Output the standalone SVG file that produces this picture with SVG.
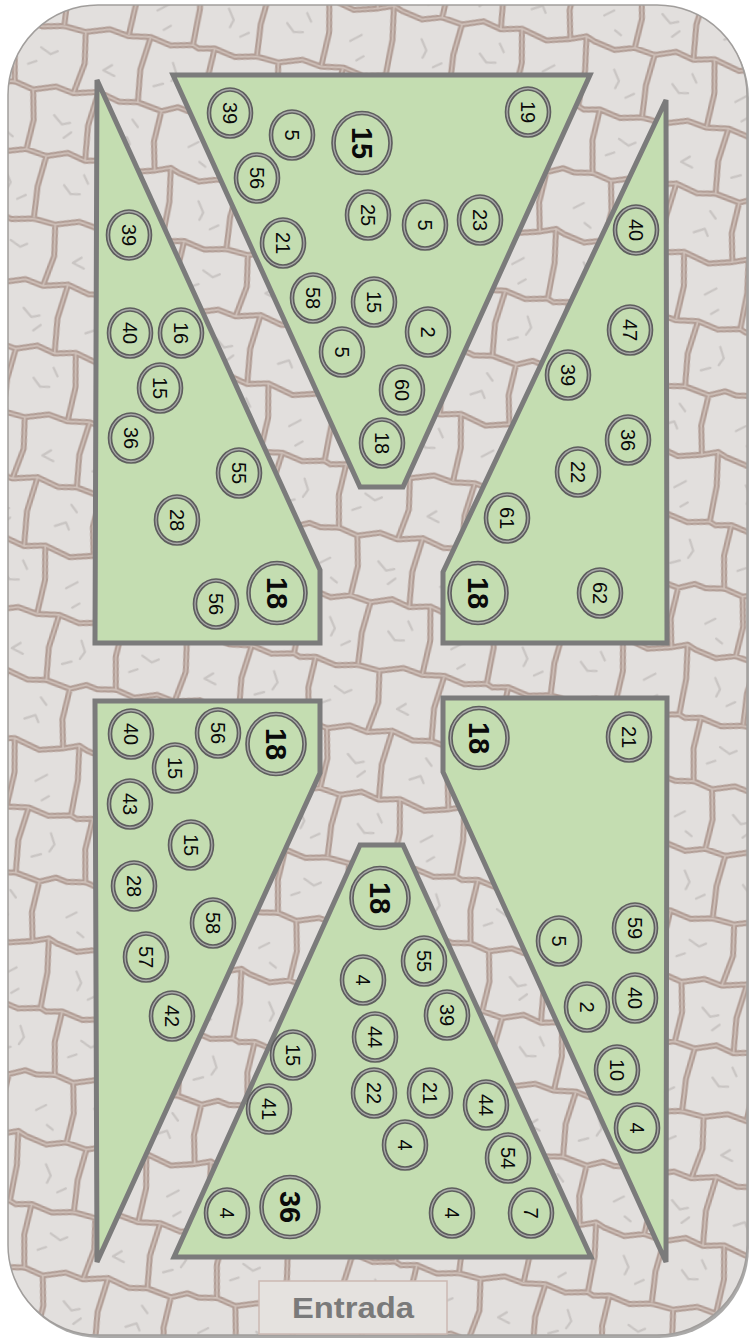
<svg xmlns="http://www.w3.org/2000/svg" xmlns:xlink="http://www.w3.org/1999/xlink" width="751" height="1343" viewBox="0 0 751 1343">
<style>
.zone{fill:#c4ddb1;stroke:#7b7b7b;stroke-width:5;stroke-linejoin:miter}
.ro{fill:#c4ddb1;stroke:#5e5e5e;stroke-width:4.6}
.ri{fill:none;stroke:#a9a9a9;stroke-width:1.3}
.n{font-family:"Liberation Sans",Arial,sans-serif;font-size:20px;fill:#0a0a0a;text-anchor:middle;dominant-baseline:central}
.nb{font-family:"Liberation Sans",Arial,sans-serif;font-size:29px;font-weight:bold;fill:#0a0a0a;text-anchor:middle;dominant-baseline:central}
.grout{fill:none;stroke:#b19d95;stroke-width:4.6;stroke-linejoin:round;stroke-linecap:round}
.groutHi{fill:none;stroke:#cfc1ba;stroke-width:1.3;stroke-linejoin:round;stroke-linecap:round}
.vein{fill:none;stroke:#c9c5c3;stroke-width:1.8;stroke-linecap:round;stroke-linejoin:round}
</style>
<defs>
<pattern id="stones" patternUnits="userSpaceOnUse" width="150" height="150" patternTransform="rotate(9) scale(1.3) translate(7,11)">
<g id="net">
<path class="grout" d="M-5,3 L0,2 L12,0 L28,4 L45,1 L62,3 L80,-2 L95,1 L112,-1 L128,3 L145,0 L150,2 L155,3 M-5,153 L0,152 L12,150 L28,154 L45,151 L62,153 L80,148 L95,151 L112,149 L128,153 L145,150 L150,152 L155,153 M-5,50 L0,51 L14,49 L29,53 L46,48 L60,51 L79,47 L96,52 L110,50 L129,54 L141,49 L150,51 L155,50 M-5,98 L0,99 L16,103 L31,99 L47,102 L63,97 L77,101 L93,98 L113,104 L131,100 L143,96 L150,99 L155,100 M12,0 L10,24 L14,49 M62,3 L65,27 L60,51 M112,-1 L108,25 L110,50 M29,53 L33,76 L31,99 M79,47 L75,74 L77,101 M129,54 L127,78 L131,100 M47,102 L44,126 L45,151 M93,98 L97,124 L95,151 M143,96 L146,122 L145,150"/>
<path class="groutHi" d="M-5,3 L0,2 L12,0 L28,4 L45,1 L62,3 L80,-2 L95,1 L112,-1 L128,3 L145,0 L150,2 L155,3 M-5,153 L0,152 L12,150 L28,154 L45,151 L62,153 L80,148 L95,151 L112,149 L128,153 L145,150 L150,152 L155,153 M-5,50 L0,51 L14,49 L29,53 L46,48 L60,51 L79,47 L96,52 L110,50 L129,54 L141,49 L150,51 L155,50 M-5,98 L0,99 L16,103 L31,99 L47,102 L63,97 L77,101 L93,98 L113,104 L131,100 L143,96 L150,99 L155,100 M12,0 L10,24 L14,49 M62,3 L65,27 L60,51 M112,-1 L108,25 L110,50 M29,53 L33,76 L31,99 M79,47 L75,74 L77,101 M129,54 L127,78 L131,100 M47,102 L44,126 L45,151 M93,98 L97,124 L95,151 M143,96 L146,122 L145,150"/>
<path class="vein" d="M30,20 l8,4 l5,-3 M22,34 l6,-3 M80,30 l6,-5 m-6,5 l9,3 M132,16 l4,8 l-3,6 M120,36 l7,-3 M48,70 l7,6 l6,-2 M58,86 l5,-5 M98,82 l8,-4 l3,5 M108,64 l5,5 M4,78 l7,-5 M14,88 l5,3 M64,122 l6,6 l7,-1 M78,112 l4,6 M114,128 l8,-6 M126,138 l-5,4 M18,118 l5,8 l-2,6 M30,138 l6,-4"/>
</g>
</pattern>
<g id="rs"><ellipse class="ro" rx="21" ry="23.5"/><ellipse class="ri" rx="21" ry="23.5"/></g>
<g id="rb"><ellipse class="ro" rx="28.5" ry="30"/><ellipse class="ri" rx="28.5" ry="30"/></g>
</defs>

<g id="board">
<rect x="10" y="8" width="739" height="1330" rx="90" fill="#7d7b79" opacity="0.65"/>
<rect x="8" y="5" width="739" height="1330" rx="90" fill="#e2dfdd"/>
<rect x="8" y="5" width="739" height="1330" rx="90" fill="url(#stones)"/>
<rect x="8" y="5" width="739" height="1330" rx="90" fill="none" stroke="#a19e9c" stroke-width="1.5"/>
</g>

<g id="zones">
<polygon id="zone-top" class="zone" points="173,75 590,75 403,487 360,487"/>
<polygon id="zone-top-left" class="zone" points="97,80 320,570 320,643 95,643"/>
<polygon id="zone-top-right" class="zone" points="666,100 667,643 443,643 443,572"/>
<polygon id="zone-bottom-left" class="zone" points="95,701 320,701 320,773 97,1262"/>
<polygon id="zone-bottom-right" class="zone" points="443,698 667,698 666,1262 443,772"/>
<polygon id="zone-bottom" class="zone" points="360,845 403,845 591,1257 174,1257"/>
</g>

<g id="spots-top">
<g id="t1"><use xlink:href="#rs" x="230" y="113"/><text class="n" transform="translate(230,113) rotate(90)">39</text></g>
<g id="t2"><use xlink:href="#rs" x="292" y="135"/><text class="n" transform="translate(292,135) rotate(90)">5</text></g>
<g id="t3"><use xlink:href="#rb" x="362" y="143"/><text class="nb" transform="translate(362,143) rotate(90)">15</text></g>
<g id="t4"><use xlink:href="#rs" x="528" y="112"/><text class="n" transform="translate(528,112) rotate(90)">19</text></g>
<g id="t5"><use xlink:href="#rs" x="257" y="178"/><text class="n" transform="translate(257,178) rotate(90)">56</text></g>
<g id="t6"><use xlink:href="#rs" x="368" y="215"/><text class="n" transform="translate(368,215) rotate(90)">25</text></g>
<g id="t7"><use xlink:href="#rs" x="425" y="225"/><text class="n" transform="translate(425,225) rotate(90)">5</text></g>
<g id="t8"><use xlink:href="#rs" x="480" y="220"/><text class="n" transform="translate(480,220) rotate(90)">23</text></g>
<g id="t9"><use xlink:href="#rs" x="283" y="243"/><text class="n" transform="translate(283,243) rotate(90)">21</text></g>
<g id="t10"><use xlink:href="#rs" x="313" y="298"/><text class="n" transform="translate(313,298) rotate(90)">58</text></g>
<g id="t11"><use xlink:href="#rs" x="374" y="302"/><text class="n" transform="translate(374,302) rotate(90)">15</text></g>
<g id="t12"><use xlink:href="#rs" x="428" y="332"/><text class="n" transform="translate(428,332) rotate(90)">2</text></g>
<g id="t13"><use xlink:href="#rs" x="342" y="352"/><text class="n" transform="translate(342,352) rotate(90)">5</text></g>
<g id="t14"><use xlink:href="#rs" x="402" y="390"/><text class="n" transform="translate(402,390) rotate(90)">60</text></g>
<g id="t15"><use xlink:href="#rs" x="382" y="443"/><text class="n" transform="translate(382,443) rotate(90)">18</text></g>
</g>

<g id="spots-top-left">
<g id="tl1"><use xlink:href="#rs" x="129" y="235"/><text class="n" transform="translate(129,235) rotate(90)">39</text></g>
<g id="tl2"><use xlink:href="#rs" x="130" y="333"/><text class="n" transform="translate(130,333) rotate(90)">40</text></g>
<g id="tl3"><use xlink:href="#rs" x="181" y="333"/><text class="n" transform="translate(181,333) rotate(90)">16</text></g>
<g id="tl4"><use xlink:href="#rs" x="160" y="388"/><text class="n" transform="translate(160,388) rotate(90)">15</text></g>
<g id="tl5"><use xlink:href="#rs" x="131" y="438"/><text class="n" transform="translate(131,438) rotate(90)">36</text></g>
<g id="tl6"><use xlink:href="#rs" x="239" y="473"/><text class="n" transform="translate(239,473) rotate(90)">55</text></g>
<g id="tl7"><use xlink:href="#rs" x="177" y="520"/><text class="n" transform="translate(177,520) rotate(90)">28</text></g>
<g id="tl8"><use xlink:href="#rb" x="277" y="593"/><text class="nb" transform="translate(277,593) rotate(90)">18</text></g>
<g id="tl9"><use xlink:href="#rs" x="216" y="604"/><text class="n" transform="translate(216,604) rotate(90)">56</text></g>
</g>

<g id="spots-top-right">
<g id="tr1"><use xlink:href="#rs" x="636" y="230"/><text class="n" transform="translate(636,230) rotate(90)">40</text></g>
<g id="tr2"><use xlink:href="#rs" x="630" y="330"/><text class="n" transform="translate(630,330) rotate(90)">47</text></g>
<g id="tr3"><use xlink:href="#rs" x="568" y="375"/><text class="n" transform="translate(568,375) rotate(90)">39</text></g>
<g id="tr4"><use xlink:href="#rs" x="628" y="440"/><text class="n" transform="translate(628,440) rotate(90)">36</text></g>
<g id="tr5"><use xlink:href="#rs" x="578" y="472"/><text class="n" transform="translate(578,472) rotate(90)">22</text></g>
<g id="tr6"><use xlink:href="#rs" x="507" y="518"/><text class="n" transform="translate(507,518) rotate(90)">61</text></g>
<g id="tr7"><use xlink:href="#rb" x="478" y="593"/><text class="nb" transform="translate(478,593) rotate(90)">18</text></g>
<g id="tr8"><use xlink:href="#rs" x="600" y="593"/><text class="n" transform="translate(600,593) rotate(90)">62</text></g>
</g>

<g id="spots-bottom-left">
<g id="bl1"><use xlink:href="#rs" x="131" y="734"/><text class="n" transform="translate(131,734) rotate(90)">40</text></g>
<g id="bl2"><use xlink:href="#rs" x="218" y="733"/><text class="n" transform="translate(218,733) rotate(90)">56</text></g>
<g id="bl3"><use xlink:href="#rb" x="276" y="744"/><text class="nb" transform="translate(276,744) rotate(90)">18</text></g>
<g id="bl4"><use xlink:href="#rs" x="175" y="768"/><text class="n" transform="translate(175,768) rotate(90)">15</text></g>
<g id="bl5"><use xlink:href="#rs" x="130" y="804"/><text class="n" transform="translate(130,804) rotate(90)">43</text></g>
<g id="bl6"><use xlink:href="#rs" x="191" y="845"/><text class="n" transform="translate(191,845) rotate(90)">15</text></g>
<g id="bl7"><use xlink:href="#rs" x="134" y="886"/><text class="n" transform="translate(134,886) rotate(90)">28</text></g>
<g id="bl8"><use xlink:href="#rs" x="213" y="923"/><text class="n" transform="translate(213,923) rotate(90)">58</text></g>
<g id="bl9"><use xlink:href="#rs" x="146" y="957"/><text class="n" transform="translate(146,957) rotate(90)">57</text></g>
<g id="bl10"><use xlink:href="#rs" x="172" y="1016"/><text class="n" transform="translate(172,1016) rotate(90)">42</text></g>
</g>

<g id="spots-bottom-right">
<g id="br1"><use xlink:href="#rb" x="479" y="738"/><text class="nb" transform="translate(479,738) rotate(90)">18</text></g>
<g id="br2"><use xlink:href="#rs" x="629" y="737"/><text class="n" transform="translate(629,737) rotate(90)">21</text></g>
<g id="br3"><use xlink:href="#rs" x="559" y="941"/><text class="n" transform="translate(559,941) rotate(90)">5</text></g>
<g id="br4"><use xlink:href="#rs" x="635" y="928"/><text class="n" transform="translate(635,928) rotate(90)">59</text></g>
<g id="br5"><use xlink:href="#rs" x="635" y="998"/><text class="n" transform="translate(635,998) rotate(90)">40</text></g>
<g id="br6"><use xlink:href="#rs" x="587" y="1007"/><text class="n" transform="translate(587,1007) rotate(90)">2</text></g>
<g id="br7"><use xlink:href="#rs" x="617" y="1070"/><text class="n" transform="translate(617,1070) rotate(90)">10</text></g>
<g id="br8"><use xlink:href="#rs" x="637" y="1128"/><text class="n" transform="translate(637,1128) rotate(90)">4</text></g>
</g>

<g id="spots-bottom">
<g id="b1"><use xlink:href="#rb" x="380" y="898"/><text class="nb" transform="translate(380,898) rotate(90)">18</text></g>
<g id="b2"><use xlink:href="#rs" x="424" y="961"/><text class="n" transform="translate(424,961) rotate(90)">55</text></g>
<g id="b3"><use xlink:href="#rs" x="363" y="980"/><text class="n" transform="translate(363,980) rotate(90)">4</text></g>
<g id="b4"><use xlink:href="#rs" x="447" y="1015"/><text class="n" transform="translate(447,1015) rotate(90)">39</text></g>
<g id="b5"><use xlink:href="#rs" x="375" y="1037"/><text class="n" transform="translate(375,1037) rotate(90)">44</text></g>
<g id="b6"><use xlink:href="#rs" x="293" y="1055"/><text class="n" transform="translate(293,1055) rotate(90)">15</text></g>
<g id="b7"><use xlink:href="#rs" x="269" y="1109"/><text class="n" transform="translate(269,1109) rotate(90)">41</text></g>
<g id="b8"><use xlink:href="#rs" x="374" y="1093"/><text class="n" transform="translate(374,1093) rotate(90)">22</text></g>
<g id="b9"><use xlink:href="#rs" x="430" y="1093"/><text class="n" transform="translate(430,1093) rotate(90)">21</text></g>
<g id="b10"><use xlink:href="#rs" x="486" y="1105"/><text class="n" transform="translate(486,1105) rotate(90)">44</text></g>
<g id="b11"><use xlink:href="#rs" x="405" y="1145"/><text class="n" transform="translate(405,1145) rotate(90)">4</text></g>
<g id="b12"><use xlink:href="#rs" x="508" y="1158"/><text class="n" transform="translate(508,1158) rotate(90)">54</text></g>
<g id="b13"><use xlink:href="#rs" x="227" y="1213"/><text class="n" transform="translate(227,1213) rotate(90)">4</text></g>
<g id="b14"><use xlink:href="#rb" x="290" y="1207"/><text class="nb" transform="translate(290,1207) rotate(90)">36</text></g>
<g id="b15"><use xlink:href="#rs" x="452" y="1213"/><text class="n" transform="translate(452,1213) rotate(90)">4</text></g>
<g id="b16"><use xlink:href="#rs" x="531" y="1213"/><text class="n" transform="translate(531,1213) rotate(90)">7</text></g>
</g>

<g id="entrance">
<rect x="259" y="1281" width="188" height="53" fill="#e5e2df" stroke="#cbb9b3" stroke-width="1.5"/>
<text x="353" y="1318" text-anchor="middle" font-family="'Liberation Sans',Arial,sans-serif" font-size="30" font-weight="bold" fill="#7a7a7a" textLength="122" lengthAdjust="spacingAndGlyphs">Entrada</text>
</g>
</svg>
